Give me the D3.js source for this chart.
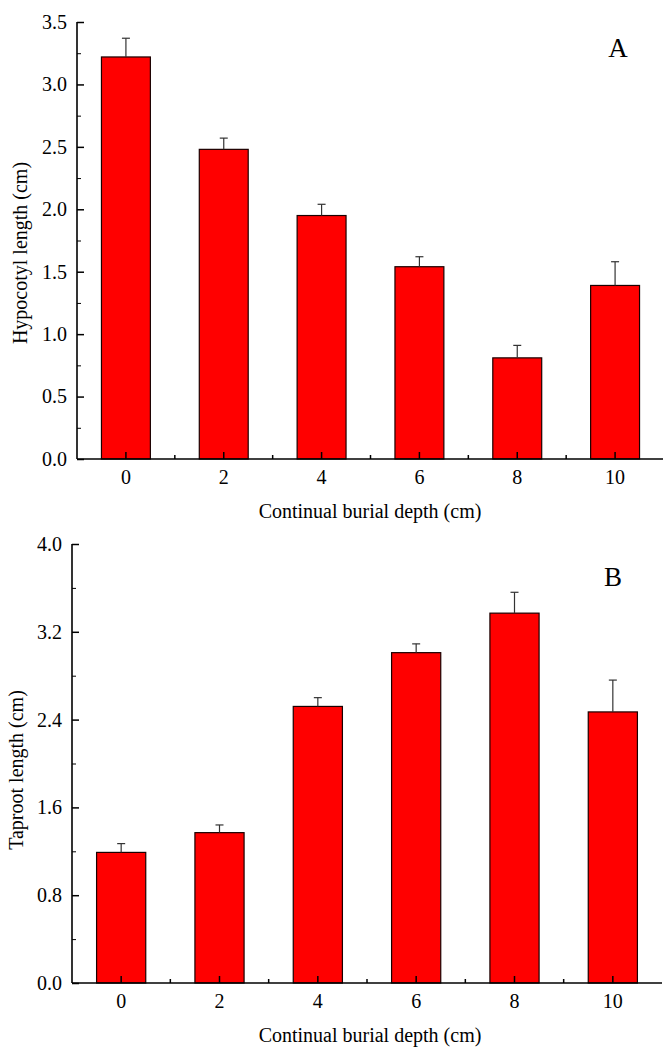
<!DOCTYPE html>
<html>
<head>
<meta charset="utf-8">
<script src="https://cdn.jsdelivr.net/npm/d3@7"></script>
<style>
  body { margin: 0; background: #fff; }
  svg text { font-family: "Liberation Serif", "DejaVu Serif", serif; fill: #000; }
</style>
</head>
<body>
<div id="chart"></div>
<script>
const width = 663;
const height = 1047;

// data
const depths = ['0', '2', '4', '6', '8', '10'];
const hypocotyl = [3.22, 2.48, 1.95, 1.54, 0.81, 1.39];
const hypocotylErr = [0.15, 0.09, 0.09, 0.08, 0.10, 0.19];
const taproot = [1.19, 1.37, 2.52, 3.01, 3.37, 2.47];
const taprootErr = [0.08, 0.07, 0.08, 0.08, 0.19, 0.29];
const hypoTicks = [0, 0.5, 1.0, 1.5, 2.0, 2.5, 3.0, 3.5];
const tapTicks = [0, 0.8, 1.6, 2.4, 3.2, 4.0];

const svg = d3.select('#chart').append('svg')
  .attr('width', width).attr('height', height);

function drawPanel(cfg) {
  const g = svg.append('g');

  const x = d3.scaleBand().domain(depths)
    .range([cfg.left, cfg.right])
    .paddingInner(0.5).paddingOuter(0.25);
  const y = d3.scaleLinear().domain([0, cfg.max]).range([cfg.bottom, cfg.top]);

  // bars
  g.selectAll('rect.bar').data(cfg.values).enter().append('rect')
    .attr('class', 'bar')
    .attr('x', (d, i) => x(depths[i]))
    .attr('y', d => y(d))
    .attr('width', x.bandwidth())
    .attr('height', d => cfg.bottom - y(d))
    .attr('fill', '#ff0000')
    .attr('stroke', '#1a0000')
    .attr('stroke-width', 1.2);

  // error bars (upper only)
  const eb = g.selectAll('g.err').data(cfg.values).enter().append('g').attr('class', 'err');
  eb.append('line')
    .attr('x1', (d, i) => x(depths[i]) + x.bandwidth() / 2)
    .attr('x2', (d, i) => x(depths[i]) + x.bandwidth() / 2)
    .attr('y1', d => y(d))
    .attr('y2', (d, i) => y(d + cfg.errs[i]))
    .attr('stroke', '#333').attr('stroke-width', 1.2);
  eb.append('line')
    .attr('x1', (d, i) => x(depths[i]) + x.bandwidth() / 2 - 4)
    .attr('x2', (d, i) => x(depths[i]) + x.bandwidth() / 2 + 4)
    .attr('y1', (d, i) => y(d + cfg.errs[i]))
    .attr('y2', (d, i) => y(d + cfg.errs[i]))
    .attr('stroke', '#333').attr('stroke-width', 1.2);

  // y axis
  const yAxis = g.append('g').attr('transform', `translate(${cfg.left},0)`)
    .call(d3.axisLeft(y).tickValues(cfg.ticks).tickSize(-7).tickPadding(10)
      .tickFormat(d3.format('.1f')));
  const minorY = d3.range(cfg.ticks.length - 1).map(i => (cfg.ticks[i] + cfg.ticks[i + 1]) / 2);
  g.append('g').attr('transform', `translate(${cfg.left},0)`)
    .call(d3.axisLeft(y).tickValues(minorY).tickSize(-4).tickFormat(''))
    .select('.domain').remove();

  // x axis
  const xAxis = g.append('g').attr('transform', `translate(0,${cfg.bottom})`)
    .call(d3.axisBottom(x).tickSize(-7).tickPadding(10));
  const mids = depths.slice(1).map((d, i) => (x(depths[i]) + x(d)) / 2 + x.bandwidth() / 2);
  g.append('g').selectAll('line').data(mids).enter().append('line')
    .attr('x1', d => d).attr('x2', d => d)
    .attr('y1', cfg.bottom).attr('y2', cfg.bottom - 4)
    .attr('stroke', '#000').attr('stroke-width', 1.5);

  [yAxis, xAxis].forEach(a => {
    a.select('.domain').attr('stroke', '#000').attr('stroke-width', 1.6);
    a.selectAll('.tick line').attr('stroke', '#000').attr('stroke-width', 1.5);
    a.selectAll('.tick text').attr('font-size', 20)
      .attr('font-family', '"Liberation Serif", serif');
  });
  xAxis.selectAll('.tick text').attr('dy', null).attr('y', 25);
  // domain lines only (no outer tick caps)
  yAxis.select('.domain').attr('d', `M0,${cfg.bottom}V${cfg.top}`);
  xAxis.select('.domain').attr('d', `M${cfg.left},0H${cfg.right}`);

  // titles
  g.append('text')
    .attr('transform', `translate(${cfg.yTitleX},${cfg.yTitleY}) rotate(-90)`)
    .attr('text-anchor', 'middle').attr('font-size', 20)
    .text(cfg.yTitle);
  g.append('text')
    .attr('x', 370).attr('y', cfg.bottom + 59)
    .attr('text-anchor', 'middle').attr('font-size', 20)
    .text('Continual burial depth (cm)');
  g.append('text')
    .attr('x', cfg.tagX).attr('y', cfg.tagY)
    .attr('text-anchor', 'middle').attr('font-size', 27)
    .text(cfg.tag);
}

drawPanel({
  left: 77, right: 664, top: 22, bottom: 459, max: 3.5,
  values: hypocotyl, errs: hypocotylErr, ticks: hypoTicks,
  yTitle: 'Hypocotyl length (cm)', yTitleX: 27, yTitleY: 253,
  tag: 'A', tagX: 618, tagY: 57
});

drawPanel({
  left: 72, right: 662, top: 544, bottom: 983, max: 4.0,
  values: taproot, errs: taprootErr, ticks: tapTicks,
  yTitle: 'Taproot length (cm)', yTitleX: 23, yTitleY: 770,
  tag: 'B', tagX: 613, tagY: 586
});
</script>
</body>
</html>
